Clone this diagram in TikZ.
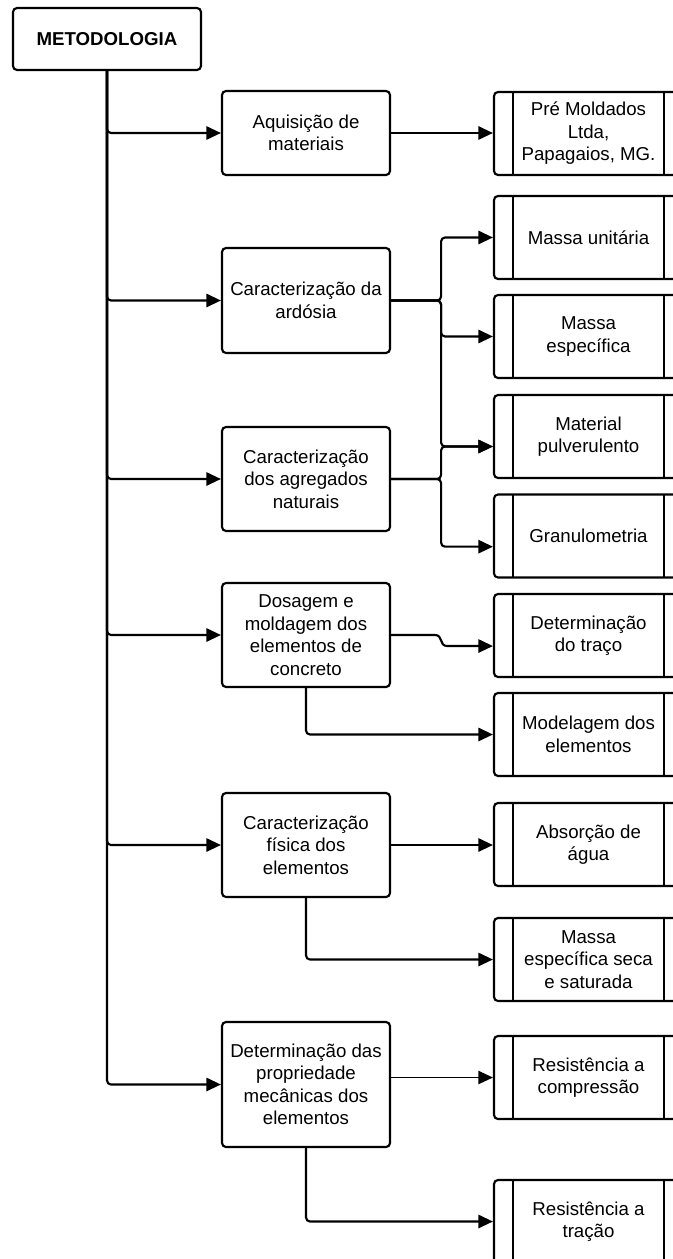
\documentclass[tikz,border=0pt]{standalone}
\usepackage{fontspec}
\setmainfont{Liberation Sans}
\usetikzlibrary{arrows.meta}

\begin{document}
\begin{tikzpicture}[
    x=0.75pt, y=-0.75pt,
    every node/.style={
      font=\fontsize{14}{16.9}\selectfont,
      align=center
    },
    metbox/.style={
      rectangle,
      draw=black,
      rounded corners=3pt,
      line width=1.6pt,
      minimum width=141pt,
      minimum height=46.5pt,
      font=\fontsize{14}{16.9}\selectfont\bfseries
    },
    stage/.style={
      rectangle,
      draw=black,
      rounded corners=3pt,
      line width=1.6pt,
      minimum width=126pt,
      minimum height=78pt,
      inner sep=2pt
    },
    proc/.style={
      rectangle,
      draw=black,
      rounded corners=3pt,
      line width=1.6pt,
      minimum width=141.75pt,
      minimum height=62.25pt,
      inner sep=2pt,
      path picture={
        \draw[line width=1.6pt] ([xshift=14.25pt]path picture bounding box.north west) -- ([xshift=14.25pt]path picture bounding box.south west);
        \draw[line width=1.6pt] ([xshift=-14.25pt]path picture bounding box.north east) -- ([xshift=-14.25pt]path picture bounding box.south east);
      }
    },
    link/.style={
      -{Triangle[length=11pt,width=10pt]},
      draw=black,
      line width=1.6pt,
      rounded corners=3pt
    }
  ]
    \useasboundingbox (0,0) rectangle (672,1259);

    \node[metbox] (met) at (107,39) {METODOLOGIA};

    \node[stage, minimum height=63pt] (aqui) at (306,133) {Aquisição de\\materiais};
    \node[stage, minimum height=78.75pt] (ard) at (306,300.5) {Caracterização da\\ardósia};
    \node[stage] (agr) at (306,479) {Caracterização\\dos agregados\\naturais};
    \node[stage] (dos) at (306,635) {Dosagem e\\moldagem dos\\elementos de\\concreto};
    \node[stage] (fis) at (306,845) {Caracterização\\física dos\\elementos};
    \node[stage, minimum height=93.75pt] (mec) at (306,1084.5) {Determinação das\\propriedade\\mecânicas dos\\elementos};

    \node[proc] (pre) at (588.5,133.5) {Pré Moldados\\Ltda,\\Papagaios, MG.};
    \node[proc] (mun) at (588.5,237.5) {Massa unitária};
    \node[proc] (mesp) at (588.5,336.5) {Massa\\específica};
    \node[proc] (mpul) at (588.5,436.5) {Material\\pulverulento};
    \node[proc] (gran) at (588.5,536) {Granulometria};
    \node[proc] (trc) at (588.5,635.5) {Determinação\\do traço};
    \node[proc] (mod) at (588.5,734.5) {Modelagem dos\\elementos};
    \node[proc] (abs) at (588.5,844.5) {Absorção de\\água};
    \node[proc] (mss) at (588.5,959.5) {Massa\\específica seca\\e saturada};
    \node[proc] (rcp) at (588.5,1077.5) {Resistência a\\compressão};
    \node[proc] (rtr) at (588.5,1221.5) {Resistência a\\tração};

    % trunk
    \draw[link] (met.south) |- (aqui.west);
    \draw[link] (met.south) |- (ard.west);
    \draw[link] (met.south) |- (agr.west);
    \draw[link] (met.south) |- (dos.west);
    \draw[link] (met.south) |- (fis.west);
    \draw[link] (met.south) |- (mec.west);

    \draw[link] (aqui.east) -- (aqui.east -| pre.west);

    % ensaios de caracterizacao
    \draw[link] (ard.east) -- ++(50,0) |- (mun.west);
    \draw[link] (ard.east) -- ++(50,0) |- (mesp.west);
    \draw[link] (ard.east) -- ++(50,0) |- ([yshift=-7.5pt]mpul.west);
    \draw[link] (agr.east) -- ++(50,0) |- ([yshift=-7.5pt]mpul.west);
    \draw[link] (agr.east) -- ++(50,0) |- ([yshift=-8pt]gran.west);

    \draw[link, sharp corners] (dos.east) -- ++(44,0) .. controls +(8,0) and +(-8,0) .. ++(12,11) -- ([yshift=-7.9pt]trc.west);
    \draw[link] (dos.south) |- (mod.west);

    \draw[link] (fis.east) -- (fis.east -| abs.west);
    \draw[link] (fis.south) |- (mss.west);

    \draw[link, line width=1.1pt] (mec.east |- rcp.west) -- (rcp.west);
    \draw[link] (mec.south) |- (rtr.west);
  \end{tikzpicture}
\end{document}
